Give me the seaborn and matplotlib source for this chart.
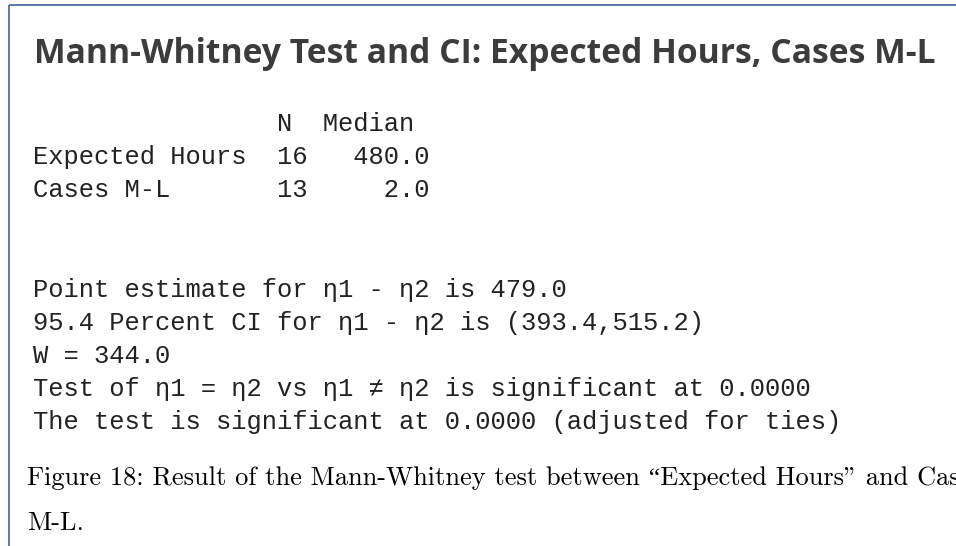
import matplotlib
matplotlib.use("Agg")
import matplotlib.pyplot as plt
import seaborn as sns

# ---- data ----
title = "Mann-Whitney Test and CI: Expected Hours, Cases M-L"
samples = ["Expected Hours", "Cases M-L"]
sample_n = [16, 13]
sample_median = [480.0, 2.0]
point_estimate = 479.0
ci_level = 95.4
ci_bounds = [393.4, 515.2]
w_stat = 344.0
p_value = 0.0000
p_value_adj = 0.0000
caption_lines = ["Figure 18: Result of the Mann-Whitney test between \u201cExpected Hours\" and Cases",
                 "M-L."]

sns.set_theme(style="white")
plt.rcParams['font.family'] = ['DejaVu Sans']

W, H = 956, 546
fig = plt.figure(figsize=(W / 100, H / 100), dpi=100)
ax = fig.add_axes([0, 0, 1, 1])
ax.set_xlim(0, W)
ax.set_ylim(H, 0)
ax.axis("off")

border = "#4f6f9f"
ax.plot([9, W + 5], [5, 5], color=border, lw=1.3, solid_capstyle="butt")
ax.plot([9, 9], [5, H + 5], color=border, lw=1.3, solid_capstyle="butt")

ax.text(34, 63, title, fontsize=24.2, fontweight="bold", family=["Open Sans", "DejaVu Sans"],
        color="#3c3c3c", va="baseline", ha="left")

mono = ["Liberation Mono", "DejaVu Sans Mono"]
mcol = "#222222"
msize = 18.4
lines_tbl = ["                N  Median"]
for name, n, med in zip(samples, sample_n, sample_median):
    lines_tbl.append(f"{name:<15}{n:>3}{med:>8.1f}")
y0, dy = 131, 33
for i, s in enumerate(lines_tbl):
    ax.text(33, y0 + i * dy, s, family=mono, fontsize=msize, color=mcol, va="baseline", ha="left")

res = [
    f"Point estimate for \u03b71 - \u03b72 is {point_estimate:.1f}",
    f"{ci_level:.1f} Percent CI for \u03b71 - \u03b72 is ({ci_bounds[0]:.1f},{ci_bounds[1]:.1f})",
    f"W = {w_stat:.1f}",
    f"Test of \u03b71 = \u03b72 vs \u03b71 \u2260 \u03b72 is significant at {p_value:.4f}",
    f"The test is significant at {p_value_adj:.4f} (adjusted for ties)",
]
y1 = 297
for i, s in enumerate(res):
    ax.text(33, y1 + i * dy, s, family=mono, fontsize=msize, color=mcol, va="baseline", ha="left")

cap_font = ["cmr10", "Liberation Serif"]
ax.text(27, 485, caption_lines[0], family=cap_font, fontsize=19.0, color="black", va="baseline", ha="left")
ax.text(27, 530, caption_lines[1], family=cap_font, fontsize=19.0, color="black", va="baseline", ha="left")

fig.savefig("out.png", dpi=100)
